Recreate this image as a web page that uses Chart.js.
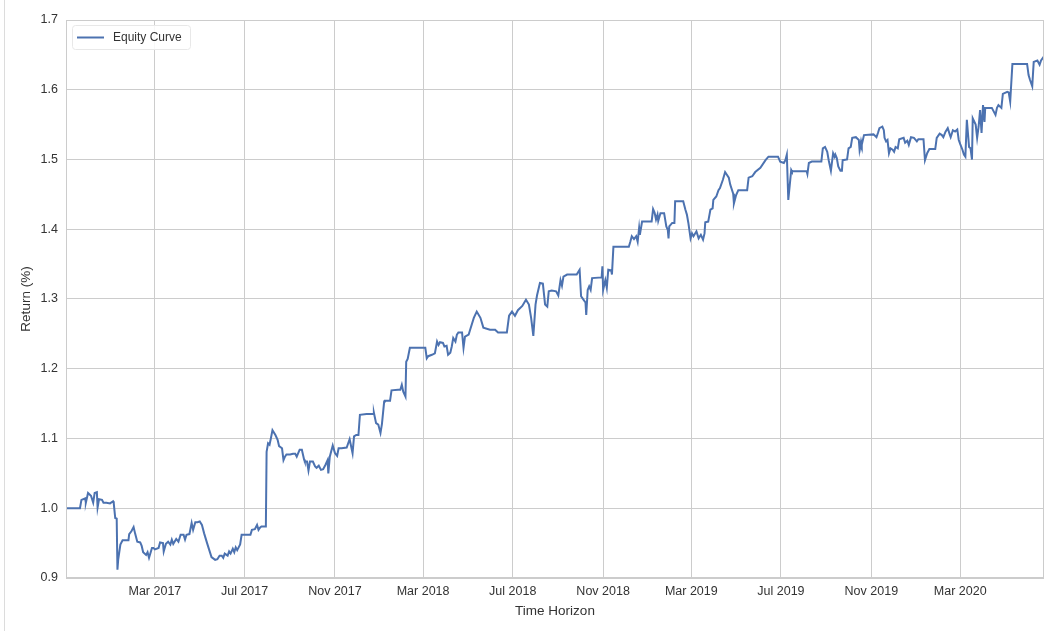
<!DOCTYPE html>
<html><head><meta charset="utf-8">
<script src="https://cdn.jsdelivr.net/npm/chart.js@4.4.1/dist/chart.umd.min.js"></script>
<style>
html,body{margin:0;padding:0;background:#fff;}
#wrap{position:relative;width:1064px;height:634px;overflow:hidden;}
#edge{position:absolute;left:4px;top:0;height:631px;width:0;border-left:1px solid #dcdcdc;}
canvas{position:absolute;left:0;top:0;}
</style></head><body>
<div id="wrap"><canvas id="c" width="1064" height="634"></canvas><div id="edge"></div></div>
<script>
// ---- data ----
const seriesLabel = 'Equity Curve';
const startDate = '2016-10-31';          // first observation
// days elapsed since startDate
const days = [
0,19,21,26,27,30,34,37,39,42,43,45,49,51,55,60,64,65,67,69,70,71,74,77,85,86,89,92,94,97,
101,103,105,109,111,113,117,119,121,126,128,132,133,136,139,142,144,146,150,153,156,160,162,164,168,171,173,176,179,182,
185,188,192,195,198,203,206,209,212,214,216,220,222,224,227,229,231,233,237,239,251,253,257,260,262,264,266,272,273,275,
277,279,281,285,288,290,294,296,298,300,305,309,312,314,318,321,324,325,328,330,332,336,339,341,344,347,350,353,356,357,
359,363,366,369,371,375,382,386,388,390,392,395,398,400,409,418,419,422,425,428,430,433,434,441,443,452,455,457,459,462,
463,465,468,489,491,493,498,502,505,507,509,513,515,518,520,523,525,527,530,532,534,539,541,543,548,550,555,559,564,568,
577,584,588,600,603,607,611,615,621,626,630,633,636,639,641,645,649,652,655,657,661,667,670,673,675,677,682,695,699,701,
703,707,708,710,712,714,716,729,730,731,734,736,738,742,743,745,766,768,770,773,776,778,780,781,784,797,799,801,803,805,
806,809,814,817,819,820,821,825,828,829,840,843,845,847,850,852,854,858,861,864,867,869,870,874,877,880,881,885,888,890,
894,897,902,904,908,909,912,915,927,929,934,938,945,952,956,969,972,977,979,981,983,987,988,1008,1009,1011,1015,1028,1030,1033,
1036,1038,1041,1044,1046,1047,1049,1051,1054,1056,1057,1063,1065,1068,1070,1075,1079,1080,1082,1083,1086,1099,1103,1105,1107,1111,1113,1114,1116,1118,
1120,1122,1125,1127,1129,1132,1134,1140,1142,1145,1147,1150,1154,1158,1160,1167,1169,1172,1175,1183,1185,1189,1192,1194,1197,1200,1203,1204,1207,1210,
1213,1215,1217,1220,1222,1224,1226,1229,1231,1233,1234,1238,1240,1242,1244,1246,1248,1250,1251,1260,1265,1267,1269,1273,1275,1281,1283,1285,1288,1308,
1310,1312,1315,1317,1322,1325,1327,1331
];
// cumulative return (equity multiple)
const equity = [
1.000,1.000,1.012,1.014,1.008,1.022,1.018,1.008,1.022,1.023,1.001,1.013,1.012,1.008,1.008,1.007,1.010,1.007,0.986,0.985,0.912,0.926,0.948,0.954,0.954,0.963,0.967,0.973,0.964,0.952,
0.951,0.946,0.937,0.933,0.937,0.929,0.943,0.943,0.941,0.943,0.951,0.950,0.938,0.949,0.952,0.948,0.955,0.949,0.956,0.952,0.962,0.962,0.955,0.962,0.963,0.979,0.969,0.980,0.980,0.981,
0.976,0.964,0.950,0.940,0.930,0.926,0.927,0.932,0.932,0.929,0.935,0.932,0.938,0.935,0.942,0.937,0.944,0.940,0.948,0.962,0.962,0.969,0.970,0.976,0.969,0.972,0.974,0.974,1.081,1.093,
1.091,1.101,1.112,1.105,1.098,1.089,1.086,1.069,1.074,1.077,1.077,1.078,1.078,1.074,1.084,1.084,1.070,1.067,1.067,1.054,1.067,1.067,1.060,1.058,1.061,1.055,1.056,1.062,1.069,1.050,
1.074,1.090,1.079,1.075,1.086,1.086,1.087,1.099,1.089,1.079,1.103,1.105,1.105,1.134,1.135,1.135,1.137,1.122,1.120,1.108,1.121,1.153,1.154,1.154,1.169,1.170,1.170,1.177,1.167,1.160,
1.210,1.214,1.230,1.230,1.215,1.218,1.220,1.222,1.239,1.234,1.238,1.237,1.232,1.233,1.220,1.223,1.232,1.244,1.239,1.249,1.252,1.252,1.230,1.246,1.249,1.256,1.273,1.282,1.273,1.259,
1.256,1.256,1.252,1.252,1.276,1.282,1.276,1.284,1.290,1.299,1.292,1.273,1.247,1.292,1.305,1.323,1.322,1.292,1.289,1.311,1.312,1.311,1.305,1.327,1.319,1.332,1.335,1.335,1.342,1.304,
1.301,1.295,1.277,1.313,1.318,1.313,1.330,1.331,1.347,1.313,1.327,1.316,1.342,1.341,1.335,1.375,1.375,1.382,1.390,1.386,1.390,1.382,1.402,1.392,1.411,1.411,1.429,1.424,1.414,1.421,
1.412,1.423,1.423,1.404,1.399,1.387,1.404,1.409,1.409,1.440,1.440,1.428,1.421,1.409,1.387,1.394,1.390,1.397,1.387,1.392,1.385,1.394,1.410,1.411,1.428,1.430,1.442,1.447,1.456,1.459,
1.471,1.482,1.474,1.464,1.451,1.437,1.449,1.456,1.456,1.474,1.476,1.482,1.488,1.499,1.504,1.504,1.497,1.495,1.499,1.507,1.442,1.485,1.483,1.483,1.479,1.495,1.497,1.497,1.516,1.518,
1.511,1.499,1.484,1.509,1.504,1.507,1.502,1.490,1.484,1.484,1.499,1.500,1.516,1.518,1.531,1.532,1.528,1.514,1.526,1.521,1.535,1.536,1.532,1.538,1.545,1.547,1.542,1.531,1.526,1.528,
1.509,1.516,1.514,1.511,1.518,1.516,1.529,1.531,1.524,1.527,1.521,1.532,1.531,1.526,1.529,1.529,1.499,1.509,1.515,1.515,1.531,1.537,1.535,1.532,1.540,1.545,1.535,1.532,1.542,1.540,
1.543,1.528,1.522,1.514,1.507,1.504,1.557,1.518,1.516,1.500,1.559,1.550,1.531,1.547,1.571,1.538,1.578,1.554,1.574,1.574,1.564,1.574,1.578,1.574,1.594,1.597,1.596,1.583,1.637,1.637,
1.621,1.614,1.605,1.640,1.642,1.636,1.642,1.648
];
const tickDates  = ['2017-03-01','2017-07-01','2017-11-01','2018-03-01','2018-07-01','2018-11-01','2019-03-01','2019-07-01','2019-11-01','2020-03-01'];
const tickLabels = ['Mar 2017','Jul 2017','Nov 2017','Mar 2018','Jul 2018','Nov 2018','Mar 2019','Jul 2019','Nov 2019','Mar 2020'];
const yMin = 0.9, yMax = 1.7, yStep = 0.1;
const xTitle = 'Time Horizon';
const yTitle = 'Return (%)';

// ---- build ----
const DAY = 86400000;
const t0 = Date.parse(startDate);
const tickDays = tickDates.map(d => Math.round((Date.parse(d) - t0) / DAY));
const points = days.map((d, i) => ({x: d, y: equity[i]}));

const FONT = '"Liberation Sans", Arial, Helvetica, sans-serif';
const TEXT = '#333333';
const GRID = '#cccccc';

const framePlugin = {
  id: 'frame',
  afterDatasetsDraw(chart) {
    const {ctx, chartArea: a} = chart;
    ctx.save();
    ctx.strokeStyle = GRID;
    ctx.lineWidth = 1;
    ctx.strokeRect(Math.round(a.left) + 0.5, Math.round(a.top) + 0.5,
                   Math.round(a.right - a.left) - 1, Math.round(a.bottom - a.top) - 1);
    ctx.restore();
  }
};

const legendPlugin = {
  id: 'insideLegend',
  afterDraw(chart) {
    const {ctx, chartArea: a} = chart;
    const ds = chart.data.datasets[0];
    const x = a.left + 6, y = a.top + 5, w = 118, h = 24, r = 3;
    ctx.save();
    ctx.fillStyle = 'rgba(255,255,255,0.85)';
    ctx.strokeStyle = '#e8e8e8';
    ctx.lineWidth = 1;
    ctx.beginPath();
    ctx.roundRect(x + 0.5, y + 0.5, w, h, r);
    ctx.fill();
    ctx.stroke();
    const cy = y + h / 2 + 0.5;
    ctx.strokeStyle = ds.borderColor;
    ctx.lineWidth = 2;
    ctx.beginPath();
    ctx.moveTo(x + 5, cy);
    ctx.lineTo(x + 32, cy);
    ctx.stroke();
    ctx.fillStyle = TEXT;
    ctx.font = '12px ' + FONT;
    ctx.textBaseline = 'middle';
    ctx.textAlign = 'left';
    ctx.fillText(ds.label, x + 41, cy);
    ctx.restore();
  }
};

new Chart(document.getElementById('c'), {
  type: 'line',
  data: {
    datasets: [{
      label: seriesLabel,
      data: points,
      borderColor: '#4C72B0',
      borderWidth: 2,
      pointRadius: 0,
      tension: 0,
      fill: false
    }]
  },
  options: {
    responsive: false,
    devicePixelRatio: 1,
    animation: false,
    layout: {padding: {top: 20, right: 20, left: 0, bottom: 0}},
    plugins: {legend: {display: false}, tooltip: {enabled: false}},
    scales: {
      x: {
        type: 'linear',
        min: days[0],
        max: days[days.length - 1],
        afterBuildTicks: s => { s.ticks = tickDays.map(v => ({value: v})); },
        afterFit: s => { s.height = 56; },
        ticks: {
          autoSkip: false, maxRotation: 0, padding: 6, color: TEXT,
          font: {family: FONT, size: 12.5},
          callback: (v, i) => tickLabels[i]
        },
        grid: {color: GRID, lineWidth: 1, drawTicks: false},
        border: {display: false},
        title: {display: true, text: xTitle, color: TEXT,
                font: {family: FONT, size: 13.5}, padding: {top: 0, bottom: 15}}
      },
      y: {
        min: yMin, max: yMax,
        afterFit: s => { s.width = 66; },
        ticks: {
          stepSize: yStep, padding: 8, color: TEXT,
          font: {family: FONT, size: 12.5},
          callback: v => Number(v).toFixed(1)
        },
        grid: {color: GRID, lineWidth: 1, drawTicks: false},
        border: {display: false},
        title: {display: true, text: yTitle, color: TEXT,
                font: {family: FONT, size: 13.5}, padding: {top: 18, bottom: 0}}
      }
    }
  },
  plugins: [framePlugin, legendPlugin]
});
</script>
</body></html>
